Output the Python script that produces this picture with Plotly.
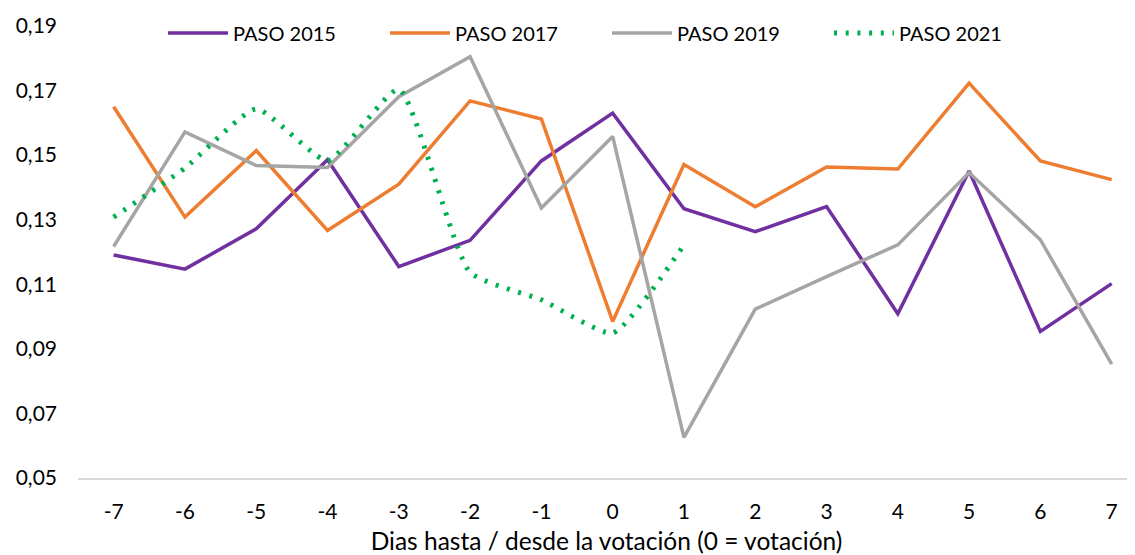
import plotly.graph_objects as go

dias = [-7, -6, -5, -4, -3, -2, -1, 0, 1, 2, 3, 4, 5, 6, 7]
paso_2015 = [0.1191, 0.1147, 0.1272, 0.1486, 0.1155, 0.1236, 0.1482, 0.1630, 0.1334, 0.1263, 0.1341, 0.1009, 0.1451, 0.0954, 0.1102]
paso_2017 = [0.1650, 0.1308, 0.1514, 0.1267, 0.1410, 0.1668, 0.1612, 0.0985, 0.1471, 0.1340, 0.1463, 0.1457, 0.1723, 0.1482, 0.1424]
paso_2019 = [0.1217, 0.1572, 0.1468, 0.1462, 0.1681, 0.1805, 0.1336, 0.1558, 0.0626, 0.1023, 0.1124, 0.1222, 0.1446, 0.1238, 0.0853]
dias_2021 = [-7, -6, -5, -4, -3, -2, -1, 0, 1]
paso_2021 = [0.1308, 0.1460, 0.1643, 0.1483, 0.1704, 0.1137, 0.1052, 0.0949, 0.1222]

x_ticks = dias
y_ticks = [0.05, 0.07, 0.09, 0.11, 0.13, 0.15, 0.17, 0.19]

# page body has an 8px default margin, so the figure is drawn from (8, 8)
W, H = 1127, 547
L, R, T, B = 70, 0, 18, 77
PW, PH = W - L - R, H - T - B

fig = go.Figure()
fig.add_trace(go.Scatter(x=dias, y=paso_2015, mode="lines", name="PASO 2015",
                         line=dict(color="#7030A0", width=3.5)))
fig.add_trace(go.Scatter(x=dias, y=paso_2017, mode="lines", name="PASO 2017",
                         line=dict(color="#ED7D31", width=3.5)))
fig.add_trace(go.Scatter(x=dias, y=paso_2019, mode="lines", name="PASO 2019",
                         line=dict(color="#A5A5A5", width=3.5)))
fig.add_trace(go.Scatter(x=dias_2021, y=paso_2021, mode="lines", name="PASO 2021",
                         line=dict(color="#00B050", width=5, dash="3px,8.7px",
                                   shape="spline", smoothing=0.5)))

font_family = "Lato, 'Open Sans', sans-serif"

fig.update_layout(
    width=W, height=H,
    margin=dict(l=L, r=R, t=T, b=B, autoexpand=False),
    paper_bgcolor="white", plot_bgcolor="white",
    separators=",.",
    font=dict(family=font_family, size=20, color="#000000"),
    showlegend=True,
    legend=dict(orientation="h", x=(155 - L) / PW, xanchor="left",
                y=1 + (T - 25) / PH, yanchor="middle",
                font=dict(size=20), bgcolor="rgba(0,0,0,0)",
                itemwidth=60, entrywidth=147, entrywidthmode="pixels"),
    xaxis=dict(range=[-7.5, 7.327], tickmode="array", tickvals=x_ticks,
               ticktext=[str(v) for v in x_ticks], automargin=False,
               showgrid=False, zeroline=False, showline=True,
               linecolor="#D9D9D9", linewidth=1.5, ticks="",
               tickfont=dict(size=21), ticklabelstandoff=14,
               title=dict(text="Dias hasta / desde la votación (0 = votación)",
                          font=dict(size=24.5), standoff=20)),
    yaxis=dict(range=[0.05, 0.19], tickmode="array", tickvals=y_ticks,
               tickformat=".2f", showgrid=False, zeroline=False, automargin=False,
               showline=False, ticks="", tickfont=dict(size=21),
               ticklabelstandoff=20),
)

fig.write_html("out.html")
